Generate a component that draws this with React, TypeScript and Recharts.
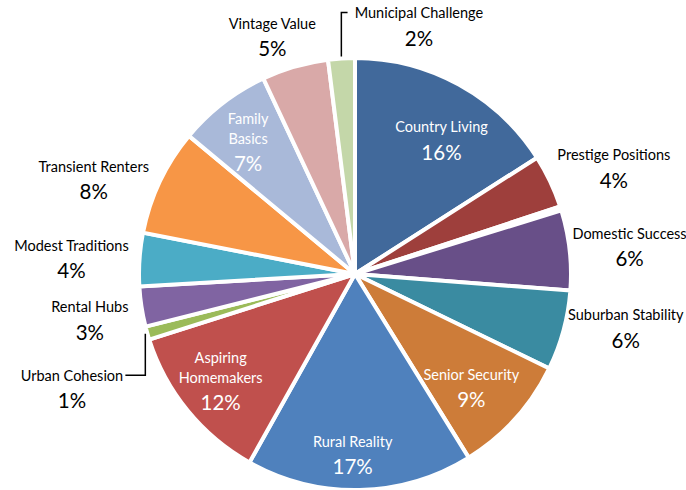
import { Cell, Pie, PieChart } from "recharts";

// clockwise from 12 o'clock
const segments = [
  "Country Living",
  "Prestige Positions",
  "Other",
  "Domestic Success",
  "Suburban Stability",
  "Senior Security",
  "Rural Reality",
  "Aspiring Homemakers",
  "Urban Cohesion",
  "Rental Hubs",
  "Modest Traditions",
  "Transient Renters",
  "Family Basics",
  "Vintage Value",
  "Municipal Challenge",
];

const shares = [16, 4, 0.3, 6, 6, 9, 17, 12, 1, 3, 4, 8, 7, 5, 2];

const shareLabels = ["16%", "4%", "", "6%", "6%", "9%", "17%", "12%", "1%", "3%", "4%", "8%", "7%", "5%", "2%"];

const colors = [
  "#41699B",
  "#9E3F3C",
  "#7E9A47",
  "#684F88",
  "#3A8BA1",
  "#CD7C39",
  "#4F81BD",
  "#C0504D",
  "#9BBB59",
  "#8064A2",
  "#4BACC6",
  "#F79646",
  "#A9B9D9",
  "#D9A9A8",
  "#C4D7A9",
];

// label layout: [radius, angular shift (deg, clockwise), leader line]
const labelPlace: ([number, number, boolean] | null)[] = [
  [160, 4, false],
  [280, 3, false],
  null,
  [276, 0.5, false],
  [276, -4, false],
  [162, 2, false],
  [180, 2, false],
  [171, 1, false],
  [305, -6, true],
  [269, -1, false],
  [284, -0.6, false],
  [278, -5.4, false],
  [171, -1, false],
  [252, -3, false],
  [257, 18, true],
];

const rows = segments.map((name, i) => ({ name, value: shares[i] }));

const RAD = Math.PI / 180;
const FONT = "Lato, 'Open Sans', sans-serif";

function nameLines(name: string, inside: boolean) {
  if (inside && (name === "Aspiring Homemakers" || name === "Family Basics")) {
    return name.split(" ");
  }
  return [name];
}

function renderLabel(props: any) {
  const { cx, cy, midAngle, outerRadius, index } = props;
  const place = labelPlace[index];
  if (!place) return null;
  const [r, shift, leader] = place;
  const a = (midAngle - shift) * RAD;
  const x = cx + r * Math.cos(a);
  const y = cy - r * Math.sin(a);
  const inside = r < outerRadius;
  const fill = inside ? "#fff" : "#000";
  const lines = nameLines(segments[index], inside);
  const nameGap = 20;
  const pctGap = 25;
  const height = (lines.length - 1) * nameGap + pctGap;
  const top = y - height / 2;

  let leaderPath = null;
  if (leader) {
    const ea = midAngle * RAD;
    const ex = cx + (outerRadius + 2) * Math.cos(ea);
    const ey = cy - (outerRadius + 2) * Math.sin(ea);
    const halfW = segments[index].length * 3.6;
    const endX = x > cx ? x - halfW - 3 : x + halfW + 3;
    leaderPath = (
      <polyline
        points={`${ex},${ey} ${ex},${top} ${endX},${top}`}
        fill="none"
        stroke="#000"
        strokeWidth={1.5}
      />
    );
  }

  return (
    <g key={`lbl-${index}`}>
      {leaderPath}
      {lines.map((ln, k) => (
        <text
          key={k}
          x={x}
          y={top + k * nameGap}
          fill={fill}
          fontSize={14.5}
          fontFamily={FONT}
          textAnchor="middle"
          dominantBaseline="central"
        >
          {ln}
        </text>
      ))}
      <text
        x={x}
        y={top + height}
        fill={fill}
        fontSize={20.5}
        fontFamily={FONT}
        textAnchor="middle"
        dominantBaseline="central"
      >
        {shareLabels[index]}
      </text>
    </g>
  );
}

export default function App() {
  return (
    <div style={{ position: "absolute", left: 0, top: 0, width: 686, height: 490, background: "#fff" }}>
      <PieChart width={686} height={490}>
        <Pie
          data={rows}
          dataKey="value"
          nameKey="name"
          cx={350}
          cy={269}
          outerRadius={216}
          startAngle={90}
          endAngle={-270}
          stroke="#fff"
          strokeWidth={4}
          label={renderLabel}
          labelLine={false}
          isAnimationActive={false}
        >
          {rows.map((_, i) => (
            <Cell key={`slice-${i}`} fill={colors[i]} />
          ))}
        </Pie>
      </PieChart>
    </div>
  );
}
